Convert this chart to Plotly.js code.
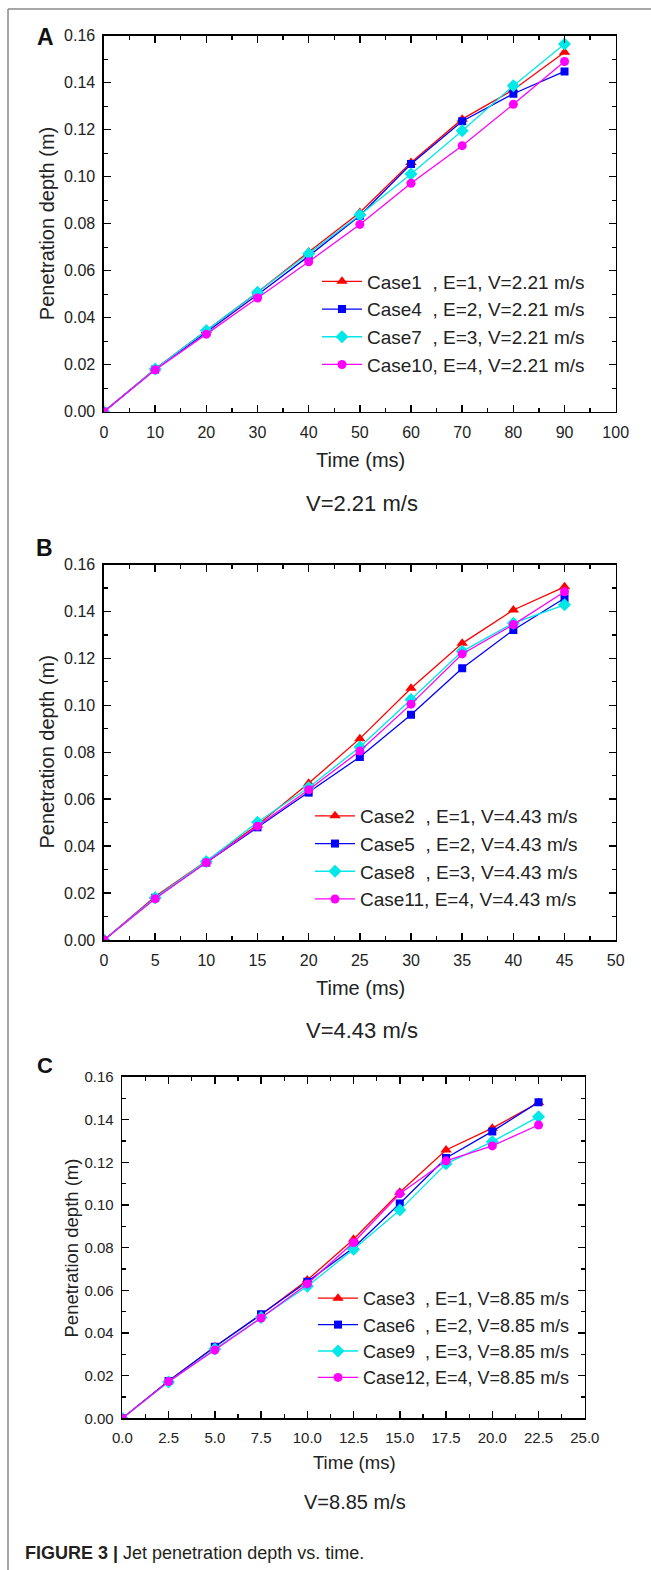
<!DOCTYPE html>
<html>
<head>
<meta charset="utf-8">
<script src="https://cdn.plot.ly/plotly-3.0.1.min.js"></script>
<style>html,body{margin:0;padding:0;background:#fff;}#chart{width:651px;height:1570px;}</style>
</head>
<body>
<div id="chart"></div>
<script>
// ---------- DATA ----------
var timeA = [0, 10, 20, 30, 40, 50, 60, 70, 80, 90];
var case1 = [0, 0.0183, 0.0345, 0.0508, 0.0680, 0.0848, 0.1060, 0.1245, 0.1370, 0.1530];
var case4 = [0, 0.0180, 0.0338, 0.0498, 0.0662, 0.0834, 0.1054, 0.1236, 0.1353, 0.1448];
var case7 = [0, 0.0182, 0.0345, 0.0508, 0.0672, 0.0837, 0.1011, 0.1196, 0.1387, 0.1565];
var case10 = [0, 0.0178, 0.0330, 0.0484, 0.0638, 0.0797, 0.0972, 0.1132, 0.1308, 0.1490];

var timeB = [0, 5, 10, 15, 20, 25, 30, 35, 40, 45];
var case2 = [0, 0.0185, 0.0337, 0.0490, 0.0668, 0.0858, 0.1073, 0.1264, 0.1406, 0.1505];
var case5 = [0, 0.0180, 0.0330, 0.0480, 0.0628, 0.0780, 0.0960, 0.1158, 0.1321, 0.1456];
var case8 = [0, 0.0180, 0.0335, 0.0502, 0.0650, 0.0822, 0.1025, 0.1230, 0.1350, 0.1428];
var case11 = [0, 0.0176, 0.0330, 0.0485, 0.0640, 0.0805, 0.1005, 0.1219, 0.1344, 0.1484];

var timeC = [0, 2.5, 5, 7.5, 10, 12.5, 15, 17.5, 20, 22.5];
var case3 = [0, 0.0175, 0.0335, 0.0485, 0.0648, 0.0839, 0.1060, 0.1258, 0.1360, 0.1480];
var case6 = [0, 0.0175, 0.0335, 0.0488, 0.0640, 0.0800, 0.1007, 0.1220, 0.1345, 0.1482];
var case9 = [0, 0.0170, 0.0325, 0.0472, 0.0619, 0.0793, 0.0976, 0.1193, 0.1297, 0.1414];
var case12 = [0, 0.0172, 0.0320, 0.0470, 0.0630, 0.0824, 0.1053, 0.1207, 0.1277, 0.1375];

var namesA = ["Case1\u00a0\u00a0, E=1, V=2.21 m/s", "Case4\u00a0\u00a0, E=2, V=2.21 m/s", "Case7\u00a0\u00a0, E=3, V=2.21 m/s", "Case10, E=4, V=2.21 m/s"];
var namesB = ["Case2\u00a0\u00a0, E=1, V=4.43 m/s", "Case5\u00a0\u00a0, E=2, V=4.43 m/s", "Case8\u00a0\u00a0, E=3, V=4.43 m/s", "Case11, E=4, V=4.43 m/s"];
var namesC = ["Case3\u00a0\u00a0, E=1, V=8.85 m/s", "Case6\u00a0\u00a0, E=2, V=8.85 m/s", "Case9\u00a0\u00a0, E=3, V=8.85 m/s", "Case12, E=4, V=8.85 m/s"];
var subtitles = ["V=2.21 m/s", "V=4.43 m/s", "V=8.85 m/s"];
var panelLetters = ["A", "B", "C"];
var xTitle = "Time (ms)";
var yTitle = "Penetration depth (m)";
var caption = "<b>FIGURE 3 |</b> Jet penetration depth vs. time.";

// ---------- STYLE ----------
var W = 651, H = 1570;
var FONT = "Liberation Sans, Arial, Helvetica, sans-serif";
var colors = ["#ff0000", "#0000ff", "#00e8e8", "#ff00ff"];
var symbols = ["triangle-up", "square", "diamond", "circle"];
var msizes = [10, 8, 10, 9];
function px(x) { return x / W; }
function py(y) { return 1 - y / H; }

var traces = [];
function addSeries(xs, ys, names, xa, ya, leg) {
  for (var i = 0; i < 4; i++) {
    traces.push({
      type: "scatter", mode: "lines+markers",
      x: xs, y: ys[i], name: names[i],
      xaxis: xa, yaxis: ya, legend: leg,
      line: {color: colors[i], width: 1.3},
      marker: {color: colors[i], symbol: symbols[i], size: msizes[i], line: {width: 0}}
    });
  }
}
addSeries(timeA, [case1, case4, case7, case10], namesA, "x", "y", "legend");
addSeries(timeB, [case2, case5, case8, case11], namesB, "x2", "y2", "legend2");
addSeries(timeC, [case3, case6, case9, case12], namesC, "x3", "y3", "legend3");

function xAxis(dom, anchor, range, dtick, minorDtick, fmt, tfs) {
  return {
    domain: dom, anchor: anchor, range: range, tick0: 0, dtick: dtick, tickformat: fmt,
    ticks: "inside", ticklen: 7, tickwidth: 1.5, tickcolor: "#000",
    mirror: "allticks", showline: true, linewidth: 1.6, linecolor: "#000",
    showgrid: false, zeroline: false, fixedrange: true,
    minor: {ticks: "inside", ticklen: 4, tickwidth: 1.3, tickcolor: "#000", dtick: minorDtick, tick0: 0, showgrid: false},
    tickfont: {family: FONT, size: tfs, color: "#222"}, ticklabelstandoff: 5
  };
}
function yAxis(dom, anchor, tfs) {
  return {
    domain: dom, anchor: anchor, range: [0, 0.16], tick0: 0, dtick: 0.02, tickformat: ".2f",
    ticks: "inside", ticklen: 7, tickwidth: 1.5, tickcolor: "#000",
    mirror: "allticks", showline: true, linewidth: 1.6, linecolor: "#000",
    showgrid: false, zeroline: false, fixedrange: true,
    minor: {ticks: "inside", ticklen: 4, tickwidth: 1.3, tickcolor: "#000", dtick: 0.01, tick0: 0, showgrid: false},
    tickfont: {family: FONT, size: tfs, color: "#222"}, ticklabelstandoff: 4
  };
}

function legendAt(x, y, fs) {
  return {x: px(x), y: py(y), xanchor: "left", yanchor: "top", xref: "paper", yref: "paper",
    bgcolor: "rgba(0,0,0,0)", borderwidth: 0, itemwidth: 40, tracegroupgap: 0,
    font: {family: FONT, size: fs, color: "#222"}, itemclick: false, itemdoubleclick: false};
}

function note(text, x, y, size, opts) {
  var a = {text: text, x: px(x), y: py(y), xref: "paper", yref: "paper", xanchor: "center", yanchor: "middle",
    showarrow: false, font: {family: FONT, size: size, color: "#222"}};
  for (var k in (opts || {})) a[k] = opts[k];
  return a;
}

var layout = {
  width: W, height: H, margin: {l: 0, r: 0, t: 0, b: 0},
  paper_bgcolor: "#fff", plot_bgcolor: "#fff", showlegend: true,
  font: {family: FONT, color: "#222"},
  xaxis: xAxis([px(104), px(615.7)], "y", [0, 100], 10, 5, "d", 16),
  yaxis: yAxis([py(411.7), py(35.7)], "x", 16),
  xaxis2: xAxis([px(104), px(615.7)], "y2", [0, 50], 5, 2.5, "d", 16),
  yaxis2: yAxis([py(940), py(564.5)], "x2", 16),
  xaxis3: xAxis([px(122.3), px(584.8)], "y3", [0, 25], 2.5, 1.25, ".1f", 15),
  yaxis3: yAxis([py(1418.3), py(1077)], "x3", 15),
  legend: legendAt(317, 262.5, 19),
  legend2: legendAt(310, 797, 19),
  legend3: legendAt(313, 1280, 18),
  shapes: [
    {type: "line", xref: "paper", yref: "paper", x0: px(8), x1: 1, y0: py(9), y1: py(9), line: {color: "#8a8a8a", width: 1.5}},
    {type: "line", xref: "paper", yref: "paper", x0: px(8), x1: px(8), y0: py(9), y1: 0, line: {color: "#8a8a8a", width: 1.5}}
  ],
  annotations: [
    note("<b>" + panelLetters[0] + "</b>", 35, 37, 23, {xanchor: "left", font: {family: FONT, size: 23, color: "#111"}}),
    note("<b>" + panelLetters[1] + "</b>", 34, 548, 23, {xanchor: "left", font: {family: FONT, size: 23, color: "#111"}}),
    note("<b>" + panelLetters[2] + "</b>", 35, 1065, 22, {xanchor: "left", font: {family: FONT, size: 22, color: "#111"}}),
    note(yTitle, 46.5, 223.7, 20, {textangle: -90}),
    note(yTitle, 46.5, 752, 20, {textangle: -90}),
    note(yTitle, 70.5, 1248, 18.5, {textangle: -90}),
    note(xTitle, 360, 460, 20),
    note(xTitle, 360, 988, 20),
    note(xTitle, 354.5, 1462, 18.5),
    note(subtitles[0], 362, 503, 22),
    note(subtitles[1], 362, 1030, 22),
    note(subtitles[2], 355, 1502, 20),
    note(caption, 23, 1553, 18, {xanchor: "left", font: {family: FONT, size: 18, color: "#231f20"}})
  ]
};

Plotly.newPlot("chart", traces, layout, {staticPlot: true, displayModeBar: false});
</script>
</body>
</html>
